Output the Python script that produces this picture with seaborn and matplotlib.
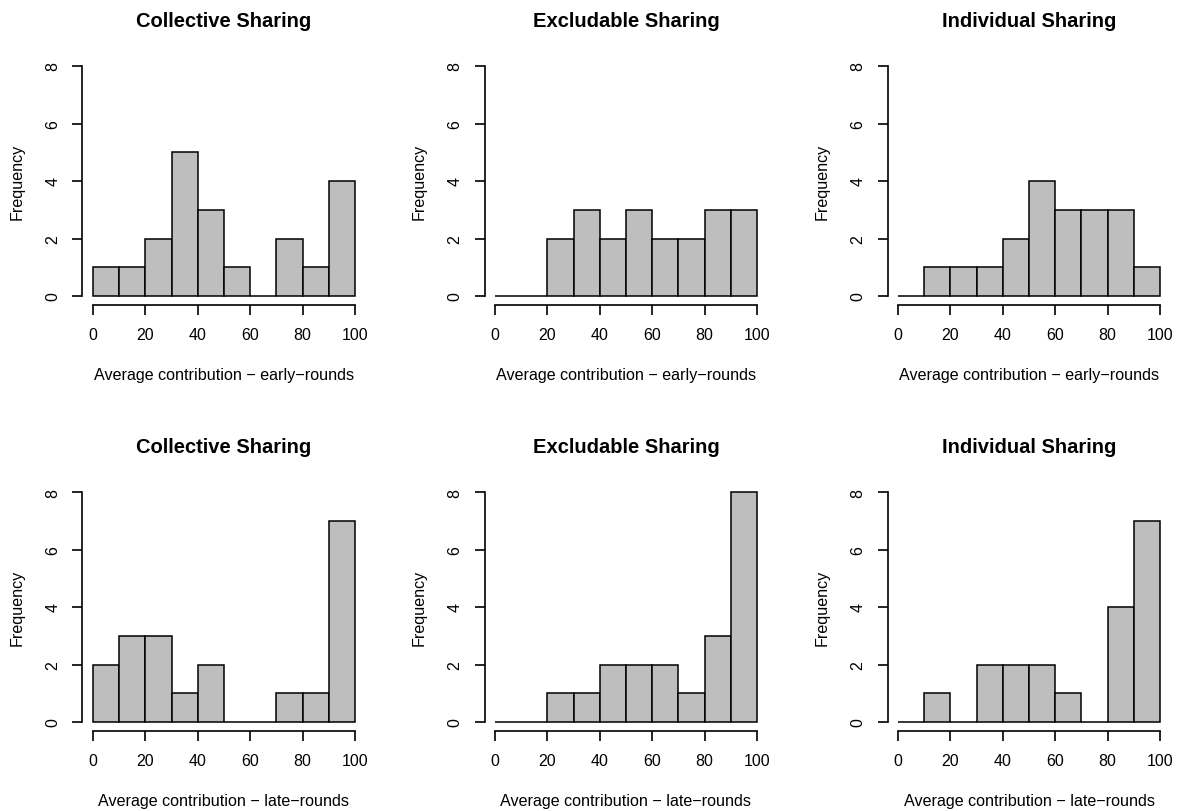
import numpy as np
import pandas as pd
import matplotlib
matplotlib.use("Agg")
import matplotlib.pyplot as plt
import seaborn as sns

sns.set_style("ticks")
plt.rcParams['font.family'] = ['Liberation Sans', 'DejaVu Sans']
plt.rcParams['text.color'] = 'black'
plt.rcParams['axes.labelcolor'] = 'black'
plt.rcParams['xtick.color'] = 'black'
plt.rcParams['ytick.color'] = 'black'
plt.rcParams['axes.edgecolor'] = 'black'

# histogram bins (10-point wide) and the counts
bin_edges = list(range(0, 101, 10))
bin_mids = [e + 5 for e in bin_edges[:-1]]

titles = ["Collective Sharing", "Excludable Sharing", "Individual Sharing"]
row_labels = ["Average contribution \u2212 early\u2212rounds",
              "Average contribution \u2212 late\u2212rounds"]

collective_early = [1, 1, 2, 5, 3, 1, 0, 2, 1, 4]
excludable_early = [0, 0, 2, 3, 2, 3, 2, 2, 3, 3]
individual_early = [0, 1, 1, 1, 2, 4, 3, 3, 3, 1]
collective_late = [2, 3, 3, 1, 2, 0, 0, 1, 1, 7]
excludable_late = [0, 0, 1, 1, 2, 2, 2, 1, 3, 8]
individual_late = [0, 1, 0, 2, 2, 2, 1, 0, 4, 7]

counts = [[collective_early, excludable_early, individual_early],
          [collective_late, excludable_late, individual_late]]

W, H = 1181, 812
fig = plt.figure(figsize=(W / 100, H / 100), dpi=100)

lefts = [82.5, 484.5, 887.5]
tops = [57.8, 483.8]
aw, ah = 283, 248.4

for r in range(2):
    for c in range(3):
        ax = fig.add_axes([lefts[c] / W, 1 - (tops[r] + ah) / H, aw / W, ah / H])
        df = pd.DataFrame({"x": bin_mids, "n": counts[r][c]})
        sns.histplot(data=df, x="x", weights="n", bins=bin_edges, ax=ax,
                     color="#BEBEBE", edgecolor="black", linewidth=1.1, alpha=1)
        ax.set_xlim(-4, 104)
        ax.set_ylim(-0.32, 8.32)
        ax.set_xticks(range(0, 101, 20))
        ax.set_yticks(range(0, 9, 2))
        ax.spines['top'].set_visible(False)
        ax.spines['right'].set_visible(False)
        ax.spines['left'].set_bounds(0, 8)
        ax.spines['bottom'].set_bounds(0, 100)
        for s in ['left', 'bottom']:
            ax.spines[s].set_linewidth(1.2)
        ax.tick_params(axis='both', length=7, width=1.2, labelsize=11.5, pad=9)
        for lab in ax.get_yticklabels():
            lab.set_rotation(90)
            lab.set_va('center')
        ax.set_title(titles[c], fontsize=14.5, fontweight='bold', pad=22.5)
        ax.set_xlabel(row_labels[r], fontsize=11.6, labelpad=18)
        ax.set_ylabel("Frequency", fontsize=11.6, labelpad=15)

fig.savefig("out.png", dpi=100)
